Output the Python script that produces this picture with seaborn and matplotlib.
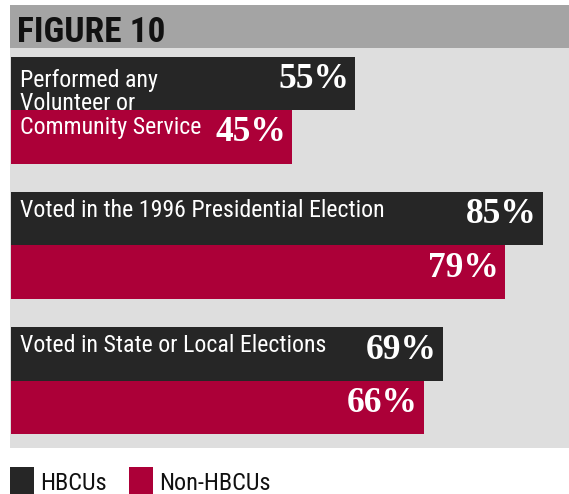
import matplotlib
matplotlib.use("Agg")
import matplotlib.pyplot as plt
from matplotlib.patches import Rectangle
from matplotlib import font_manager as fm
from matplotlib.font_manager import FontProperties
import seaborn as sns
import pandas as pd

categories = ["Performed any Volunteer or Community Service",
              "Voted in the 1996 Presidential Election",
              "Voted in State or Local Elections"]
hbcu = [55, 85, 69]
non_hbcu = [45, 79, 66]
groups = ["HBCUs", "Non-HBCUs"]
title = "FIGURE 10"

DARK = "#262626"
RED = "#ac0038"
PANEL = "#dedede"
BAND = "#a4a4a4"

df = pd.DataFrame({
    "category": categories * 2,
    "value": hbcu + non_hbcu,
    "group": [groups[0]] * 3 + [groups[1]] * 3,
})

sns.set_theme(style="white")

# ---- font selection: narrowest available sans ----
ttf = fm.fontManager.ttflist

def wnum(w):
    if isinstance(w, str):
        return {"normal": 400, "regular": 400, "bold": 700, "medium": 500,
                "light": 300, "semibold": 600, "book": 400}.get(w, 400)
    return int(w)

def snum(s):
    if isinstance(s, str):
        return {"ultra-condensed": 100, "extra-condensed": 200, "condensed": 300,
                "semi-condensed": 400, "normal": 500, "semi-expanded": 600,
                "expanded": 700}.get(s, 500)
    return int(s)

def is_narrow(f):
    n = f.name.lower()
    return ("narrow" in n or "condensed" in n or snum(f.stretch) < 500) and \
        "serif" not in n.replace("sans", "") and "mono" not in n and "italic" not in f.style

cands = [f for f in ttf if is_narrow(f) and f.style == "normal" and "CJK" not in f.name]
pref_names = ["Liberation Sans Narrow", "Arial Narrow", "Nimbus Sans Narrow", "Roboto Condensed",
              "Open Sans Condensed", "Noto Sans", "Open Sans", "DejaVu Sans", "Roboto", "Inter"]

def best(weight):
    pool = [f for f in cands if snum(f.stretch) >= 300 or "condensed" in f.name.lower() or "narrow" in f.name.lower()]
    if not pool:
        return None
    def key(f):
        try:
            r = pref_names.index(f.name)
        except ValueError:
            r = len(pref_names)
        return (r, abs(snum(f.stretch) - 300), abs(wnum(f.weight) - weight))
    return sorted(pool, key=key)[0]

reg = best(400)
bld = best(700)
if reg is not None:
    FP_REG = lambda size: FontProperties(fname=reg.fname, size=size)
else:
    FP_REG = lambda size: FontProperties(family="Roboto", size=size)
if bld is not None and wnum(bld.weight) >= 600:
    FP_BOLD = lambda size: FontProperties(fname=bld.fname, size=size)
else:
    FP_BOLD = lambda size: FontProperties(family="Roboto", weight="bold", size=size)
SERIF = ["Liberation Serif", "DejaVu Serif"]

W, H = 569, 494
fig = plt.figure(figsize=(W / 100, H / 100), dpi=100)
fig.patch.set_facecolor("white")

def fx(px):
    return px / W

def fy(py):
    return 1 - py / H

panel_top, panel_bot = 47.7, 448.3
ax = fig.add_axes([fx(10), fy(panel_bot), fx(W - 10), (panel_bot - panel_top) / H])
ax.set_facecolor(PANEL)

sns.barplot(data=df, y="category", x="value", hue="group", orient="h",
            palette=[DARK, RED], saturation=1, width=0.79, dodge=True,
            legend=False, ax=ax, linewidth=0)

scale = 6.255
ax.set_xlim(-1 / scale, (W - 11) / scale)
ax.set_ylim(2.497, -0.46)
ax.set_xticks([])
ax.set_yticks([])
ax.set_xlabel("")
ax.set_ylabel("")
for s in ax.spines.values():
    s.set_visible(False)

# title band
fig.patches.append(Rectangle((fx(10), fy(47.7)), fx(W - 10), (47.7 - 5) / H,
                             transform=fig.transFigure, facecolor=BAND,
                             edgecolor="none", zorder=0))
fig.text(fx(17), fy(41.7), title, fontproperties=FP_BOLD(25.5),
         color="#111111", va="baseline", ha="left")

# value labels
for cont in ax.containers:
    for bar, v in zip(cont.patches, cont.datavalues):
        yc = bar.get_y() + bar.get_height() / 2
        ax.annotate(f"{v:.0f}%", xy=(bar.get_x() + bar.get_width(), yc),
                    xycoords="data", xytext=(-6, 4), textcoords="offset pixels",
                    ha="right", va="center", family=SERIF, fontweight="bold",
                    fontsize=25.5, color="white", zorder=5)

# category labels
dark_bars = ax.containers[0].patches
lines = [["Performed any", "Volunteer or", "Community Service"],
         [categories[1]], [categories[2]]]
for bar, lns in zip(dark_bars, lines):
    top = bar.get_y()
    for i, ln in enumerate(lns):
        z = 1 if ln == "Volunteer or" else 5
        off = -(30 + 23.5 * i) if len(lns) > 1 else -25
        ax.annotate(ln, xy=(0, top), xycoords="data",
                    xytext=(9, off), textcoords="offset pixels",
                    ha="left", va="baseline", fontproperties=FP_REG(17.2),
                    color="white", zorder=z, annotation_clip=False)

# legend
for x0, col, lab in [(10, DARK, groups[0]), (129, RED, groups[1])]:
    fig.patches.append(Rectangle((fx(x0), 0), fx(24), (494 - 466.5) / H,
                                 transform=fig.transFigure, facecolor=col,
                                 edgecolor="none"))
    fig.text(fx(x0 + 30), fy(490), lab, fontproperties=FP_REG(17.5),
             color="#111111", va="baseline", ha="left")

fig.savefig("out.png", dpi=100, facecolor="white")
